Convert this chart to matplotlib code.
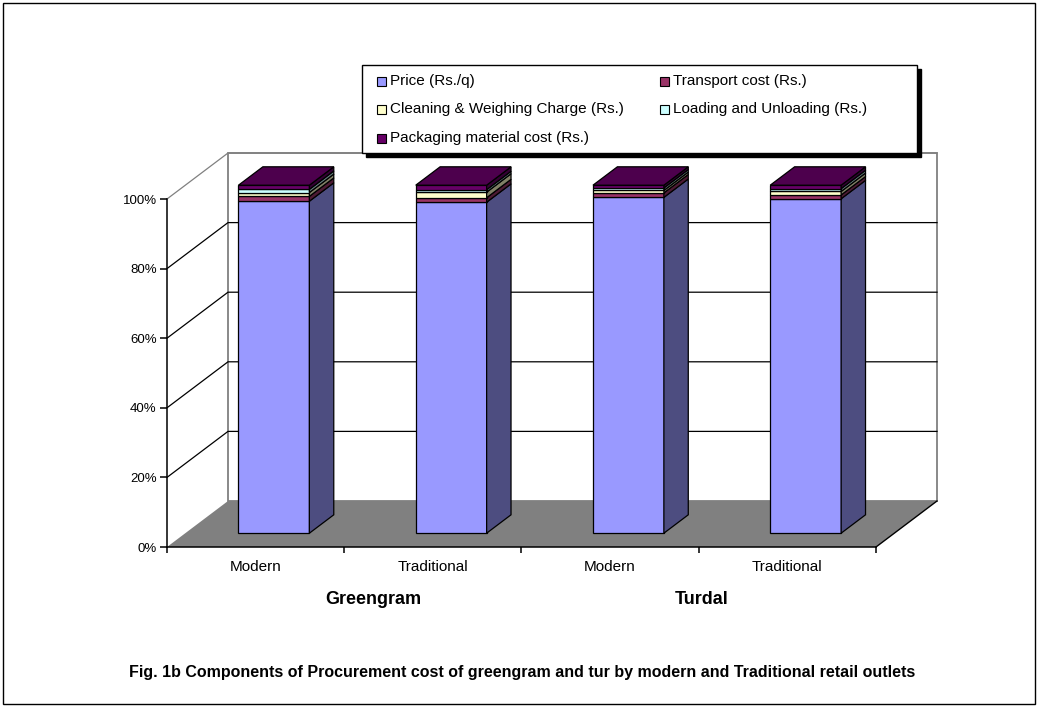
import matplotlib.pyplot as plt
from matplotlib.patches import Polygon, Rectangle
from matplotlib.ticker import PercentFormatter
from matplotlib.colors import to_rgb

plt.rcParams['font.family'] = ['Liberation Sans', 'DejaVu Sans']

categories = ['Modern', 'Traditional', 'Modern', 'Traditional']
groups = ['Greengram', 'Turdal']
series = ['Price (Rs./q)', 'Transport cost (Rs.)', 'Cleaning & Weighing Charge (Rs.)',
          'Loading and Unloading (Rs.)', 'Packaging material cost (Rs.)']
price = [95.4, 95.1, 96.5, 96.1]
transport = [1.4, 1.3, 1.3, 1.1]
cleaning = [1.1, 1.6, 0.7, 1.0]
loading = [0.9, 0.7, 0.7, 0.8]
packaging = [1.2, 1.3, 0.8, 1.0]
colors = ['#9999FF', '#993366', '#FFFFCC', '#CCFFFF', '#660066']
yticks = [0, 20, 40, 60, 80, 100]

W, H = 1038, 707
X0, Y0 = 167, 547          # pixel position of the front origin
CAT_PX, PCT_PX = 177.25, 3.48
DEPTH_X, DEPTH_Y = 61 / CAT_PX, 46 / PCT_PX


def proj(x, y, d):
    return (x + d * DEPTH_X, y + d * DEPTH_Y)


def shade(c, f):
    r, g, b = to_rgb(c)
    return (r * f, g * f, b * f)


def fig_xy(px, py):
    return px / W, 1 - py / H


fig = plt.figure(figsize=(W / 100, H / 100), dpi=100)
ax = fig.add_axes([0, 0, 1, 1])
ax.set_xlim(-X0 / CAT_PX, (W - X0) / CAT_PX)
ax.set_ylim((Y0 - H) / PCT_PX, Y0 / PCT_PX)
n = len(categories)

# walls
wall = [proj(0, 0, 1), proj(n, 0, 1), proj(n, 100, 1), proj(0, 100, 1)]
ax.add_patch(Polygon(wall, closed=True, fc='white', ec='#808080', lw=1.3, zorder=0.5))
for v in yticks[1:]:
    pts = [proj(0, v, 0), proj(0, v, 1), proj(n, v, 1)]
    col = '#808080' if v == 100 else 'black'
    ax.plot([p[0] for p in pts], [p[1] for p in pts], color=col, lw=0.9, zorder=0.6)

# floor
floor = [proj(0, 0, 0), proj(n, 0, 0), proj(n, 0, 1), proj(0, 0, 1)]
ax.add_patch(Polygon(floor, closed=True, fc='#808080', ec='none', zorder=1))
a, b = proj(n, 0, 0), proj(n, 0, 1)
ax.plot([a[0], b[0]], [a[1], b[1]], color='black', lw=1, zorder=1.1)

# bars
stack = [price, transport, cleaning, loading, packaging]
w, d0, d1 = 0.4, 0.3, 0.7
for i in range(n):
    x0 = i + 0.5 - w / 2
    x1 = i + 0.5 + w / 2
    bottom = 0
    for k, vals in enumerate(stack):
        top = bottom + vals[i]
        front = [proj(x0, bottom, d0), proj(x1, bottom, d0), proj(x1, top, d0), proj(x0, top, d0)]
        side = [proj(x1, bottom, d0), proj(x1, bottom, d1), proj(x1, top, d1), proj(x1, top, d0)]
        ax.add_patch(Polygon(front, closed=True, fc=colors[k], ec='black', lw=0.9, zorder=3))
        ax.add_patch(Polygon(side, closed=True, fc=shade(colors[k], 0.5), ec='black', lw=0.9, zorder=3))
        if k == len(stack) - 1:
            lid = [proj(x0, top, d0), proj(x1, top, d0), proj(x1, top, d1), proj(x0, top, d1)]
            ax.add_patch(Polygon(lid, closed=True, fc=shade(colors[k], 0.75), ec='black', lw=0.9, zorder=3))
        bottom = top

# axes
for s in ['top', 'right']:
    ax.spines[s].set_visible(False)
ax.spines['left'].set_position(('data', 0))
ax.spines['bottom'].set_position(('data', 0))
ax.spines['left'].set_bounds(0, 100)
ax.spines['bottom'].set_bounds(0, n)
for s in ['left', 'bottom']:
    ax.spines[s].set_linewidth(1.1)
ax.set_yticks(yticks)
ax.yaxis.set_major_formatter(PercentFormatter(xmax=100, decimals=0))
ax.set_xticks(range(n + 1))
ax.set_xticklabels([])
ax.set_xticks([i + 0.5 for i in range(n)], minor=True)
ax.set_xticklabels(categories, minor=True)
ax.tick_params(axis='y', length=5, width=1.1, pad=2.5, labelsize=9.5)
ax.tick_params(axis='x', which='major', length=4.5, width=1.1)
ax.tick_params(axis='x', which='minor', length=0, pad=9.5, labelsize=11)

# group labels
group_x = [373, 702]
for g, gx in zip(groups, group_x):
    fig.text(*fig_xy(gx, 599), g, ha='center', va='center', fontsize=13, fontweight='bold')

fig.text(*fig_xy(522, 673),
         'Fig. 1b Components of Procurement cost of greengram and tur by modern and Traditional retail outlets',
         ha='center', va='center', fontsize=11.5, fontweight='bold')

# legend box
lx0, ly0, lx1, ly1 = 362, 65, 917, 153
for off, fc in [(4, 'black'), (0, 'white')]:
    fx, fy = fig_xy(lx0 + off, ly1 + off)
    fig.add_artist(Rectangle((fx, fy), (lx1 - lx0) / W, (ly1 - ly0) / H, transform=fig.transFigure,
                             fc=fc, ec='black', lw=1))
col_x = [381, 664]
row_y = [81, 109, 138]
for k, name in enumerate(series):
    cx = col_x[k % 2]
    cy = row_y[k // 2]
    fx, fy = fig_xy(cx - 4.5, cy + 4.5)
    fig.add_artist(Rectangle((fx, fy), 9 / W, 9 / H, transform=fig.transFigure,
                             fc=colors[k], ec='black', lw=0.8))
    fig.text(*fig_xy(cx + 9, cy), name, ha='left', va='center', fontsize=11)

# outer frame
fx, fy = fig_xy(3, 704)
fig.add_artist(Rectangle((fx, fy), 1032 / W, 701 / H, transform=fig.transFigure,
                         fc='none', ec='black', lw=1))

fig.savefig('out.png', dpi=100)
